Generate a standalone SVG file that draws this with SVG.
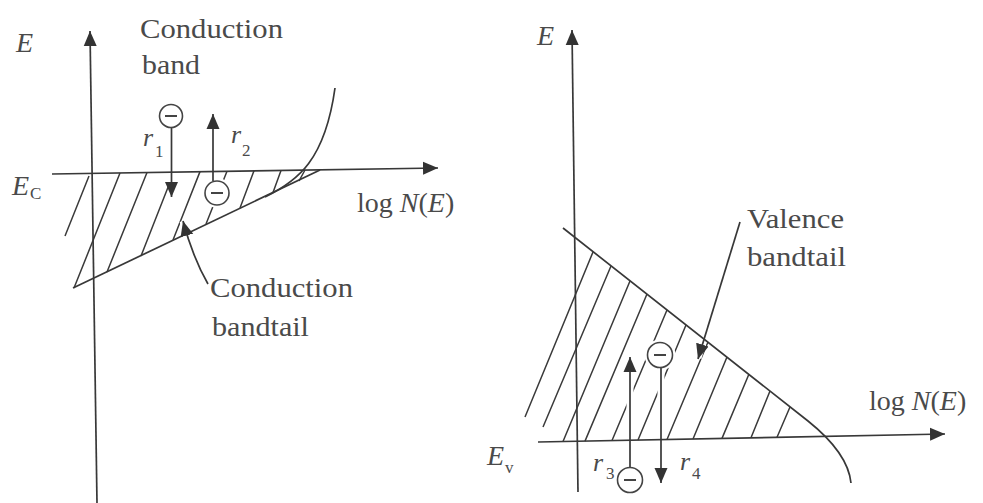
<svg xmlns="http://www.w3.org/2000/svg" width="983" height="503" viewBox="0 0 983 503">
<style>
.t{font-family:"Liberation Serif","Times New Roman",serif;font-size:28px;fill:#4a4a4a}
.i{font-style:italic}
.sub{font-size:17px}
.ln{stroke:#383838;stroke-width:1.7;fill:none}
.h{stroke:#3a3a3a;stroke-width:1.5;fill:none}
.halo{stroke:#fff;stroke-width:7;fill:none}
.el{fill:#fff;stroke:#444;stroke-width:1.6}
.mn{stroke:#444;stroke-width:2}
</style>
<defs>
<marker id="ah" markerUnits="userSpaceOnUse" markerWidth="16" markerHeight="14" refX="15" refY="7" orient="auto">
<path d="M0,0.5 L15,7 L0,13.5 z" fill="#333"/>
</marker>
</defs>
<rect width="983" height="503" fill="#fff"/>

<!-- LEFT PANEL -->
<g id="left-hatch">
<path class="h" d="M65 236 L89 176 M74 288 L120 173 M107 272 L147 172.5 M141 256 L174 172 M173 240 L200 171.6 M206 224 L227 171.2 M240 208 L254 170.8 M273 192.5 L281 170.4 M299 181 L305 170"/>
</g>
<g id="left-halos">
<line class="halo" x1="171.5" y1="128" x2="171.5" y2="197"/>
<line class="halo" x1="213" y1="181" x2="213" y2="115"/>
<path class="halo" d="M208 284 Q193 258 183 221"/>
<circle cx="217" cy="193" r="15" fill="#fff"/>
<circle cx="171" cy="116" r="15" fill="#fff"/>
</g>
<g id="left-axes">
<line class="ln" x1="97" y1="503" x2="90" y2="31" marker-end="url(#ah)"/>
<line class="ln" x1="52" y1="174" x2="438" y2="168" marker-end="url(#ah)"/>
<path class="ln" d="M73 288 L320 170"/>
<path class="ln" d="M265 197 C298 181 325 160 335 88"/>
</g>
<g id="left-connectors">
<line class="ln" x1="171.5" y1="128" x2="171.5" y2="197" marker-end="url(#ah)"/>
<line class="ln" x1="213" y1="181" x2="213" y2="114" marker-end="url(#ah)"/>
<path class="ln" d="M208 284 Q193 258 183 221" marker-end="url(#ah)"/>
</g>
<g id="electron-r1">
<circle class="el" cx="171" cy="116" r="11.5"/>
<line class="mn" x1="165" y1="116" x2="177" y2="116"/>
</g>
<g id="electron-r2">
<circle class="el" cx="217" cy="193" r="12"/>
<line class="mn" x1="211" y1="193" x2="223" y2="193"/>
</g>
<g id="left-labels">
<text class="t i" x="16" y="52">E</text>
<text class="t" x="140" y="38" textLength="143" lengthAdjust="spacingAndGlyphs">Conduction</text>
<text class="t" x="142" y="74" textLength="58" lengthAdjust="spacingAndGlyphs">band</text>
<text class="t i" x="12" y="195">E</text>
<text class="t sub" x="30" y="199">C</text>
<text class="t" x="357" y="212">log <tspan class="i">N</tspan>(<tspan class="i">E</tspan>)</text>
<text class="t i" x="143" y="146" style="font-size:26px">r</text>
<text class="t sub" x="155" y="157">1</text>
<text class="t i" x="231" y="143" style="font-size:26px">r</text>
<text class="t sub" x="242" y="156">2</text>
<text class="t" x="210" y="297" textLength="143" lengthAdjust="spacingAndGlyphs">Conduction</text>
<text class="t" x="212" y="336" textLength="97" lengthAdjust="spacingAndGlyphs">bandtail</text>
</g>

<!-- RIGHT PANEL -->
<g id="right-hatch">
<path class="h" d="M525 417 L593 252 M543 427 L611 266 M563 441.5 L630 281 M585 441.1 L647 294 M612 440.5 L667 310 M638 440 L686 325 M667 439.5 L708 342 M693 439 L727 357 M722 438.4 L749 374 M751 437.8 L770 391 M777 437.3 L790 407"/>
</g>
<g id="right-halos">
<line class="halo" x1="630" y1="467" x2="630" y2="358"/>
<line class="halo" x1="661" y1="367" x2="661" y2="482"/>
<path class="halo" d="M740 222 L698 358"/>
<circle cx="660" cy="355" r="15.5" fill="#fff"/>
<circle cx="630" cy="480" r="15.5" fill="#fff"/>
</g>
<g id="right-axes">
<line class="ln" x1="578" y1="492" x2="572" y2="30" marker-end="url(#ah)"/>
<line class="ln" x1="538" y1="442" x2="945" y2="434" marker-end="url(#ah)"/>
<path class="ln" d="M563 228 L808 421 Q848 453 851 483"/>
</g>
<g id="right-connectors">
<line class="ln" x1="630" y1="467" x2="630" y2="357" marker-end="url(#ah)"/>
<line class="ln" x1="661" y1="367" x2="661" y2="483" marker-end="url(#ah)"/>
<path class="ln" d="M740 222 L698 359" marker-end="url(#ah)"/>
</g>
<g id="electron-r3">
<circle class="el" cx="630" cy="480" r="12.5"/>
<line class="mn" x1="624" y1="480" x2="636" y2="480"/>
</g>
<g id="electron-r4">
<circle class="el" cx="660" cy="355" r="12.5"/>
<line class="mn" x1="654" y1="355" x2="666" y2="355"/>
</g>
<g id="right-labels">
<text class="t i" x="537" y="45">E</text>
<text class="t" x="747" y="228" textLength="97" lengthAdjust="spacingAndGlyphs">Valence</text>
<text class="t" x="747" y="266" textLength="99" lengthAdjust="spacingAndGlyphs">bandtail</text>
<text class="t" x="869" y="410">log <tspan class="i">N</tspan>(<tspan class="i">E</tspan>)</text>
<text class="t i" x="487" y="465">E</text>
<text class="t sub" x="505" y="473">v</text>
<text class="t i" x="593" y="471" style="font-size:26px">r</text>
<text class="t sub" x="606" y="479">3</text>
<text class="t i" x="680" y="470" style="font-size:26px">r</text>
<text class="t sub" x="692" y="479">4</text>
</g>
</svg>
